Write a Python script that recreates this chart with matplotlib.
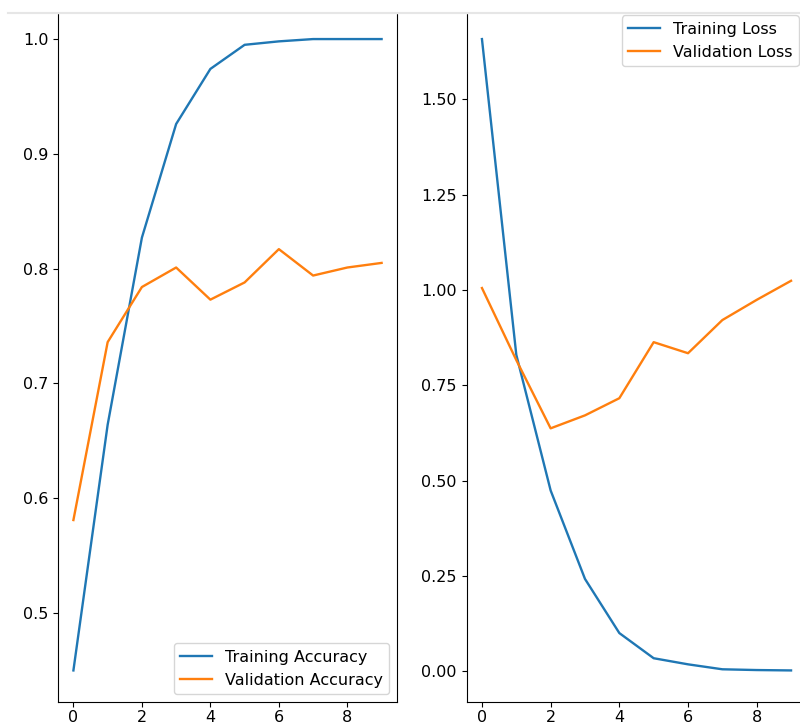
import numpy as np
import matplotlib
matplotlib.use('Agg')
import matplotlib.pyplot as plt

epochs = np.arange(10)
acc = [0.450, 0.664, 0.827, 0.926, 0.974, 0.995, 0.998, 1.000, 1.000, 1.000]
val_acc = [0.581, 0.736, 0.784, 0.801, 0.773, 0.788, 0.817, 0.794, 0.801, 0.805]
loss = [1.658, 0.830, 0.474, 0.242, 0.100, 0.034, 0.018, 0.005, 0.003, 0.002]
val_loss = [1.005, 0.816, 0.637, 0.671, 0.716, 0.863, 0.834, 0.921, 0.974, 1.024]

plt.rcParams['font.size'] = 11.5
plt.rcParams['lines.linewidth'] = 1.7
plt.rcParams['xtick.major.pad'] = 2.5

fig = plt.figure(figsize=(8, 7.26), dpi=100)

# screenshot is cropped: top spines and right edge of the 2nd plot fall off the picture
ax1 = fig.add_axes([58 / 800, 24 / 726, 339 / 800, 694.5 / 726])
ax1.plot(epochs, acc, label='Training Accuracy')
ax1.plot(epochs, val_acc, label='Validation Accuracy')
ax1.legend(loc='lower right')
ax1.spines['top'].set_visible(False)

ax2 = fig.add_axes([466.5 / 800, 24 / 726, 340 / 800, 694.5 / 726])
ax2.plot(epochs, loss, label='Training Loss')
ax2.plot(epochs, val_loss, label='Validation Loss')
ax2.legend(loc='upper right')
ax2.spines['top'].set_visible(False)

# white strip above the crop line, then the faint screenshot border
y_cut = 1 - 13 / 726
fig.add_artist(plt.Rectangle((0, y_cut), 1, 1 - y_cut, color='white',
                             transform=fig.transFigure, zorder=10))
fig.add_artist(plt.Line2D([0.01, 1.0], [y_cut, y_cut], color='#e6e6e6',
                          lw=1.5, transform=fig.transFigure, zorder=11))

fig.savefig('out.png', dpi=100)
